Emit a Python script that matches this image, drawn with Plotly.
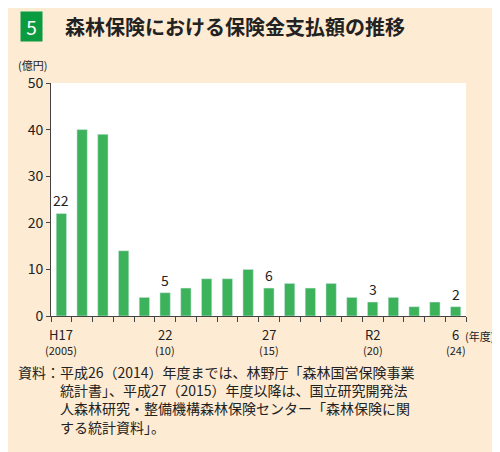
import plotly.graph_objects as go

years = list(range(2005, 2025))
payouts = [22, 40, 39, 14, 4, 5, 6, 8, 8, 10, 6, 7, 6, 7, 4, 3, 4, 2, 3, 2]
label_idx = [0, 5, 10, 15, 19]
era_labels = ["H17", "22", "27", "R2", "6"]
ad_labels = ["(2005)", "(10)", "(15)", "(20)", "(24)"]

FONT = "Noto Sans CJK JP"
BG = "#fdebd3"
x = list(range(len(years)))

fig = go.Figure()
fig.add_trace(go.Bar(x=x, y=payouts, marker_color="#3cb35a", width=0.5))

for i in label_idx:
    fig.add_annotation(x=i, y=payouts[i], text=str(payouts[i]), showarrow=False, yanchor="bottom",
                       yshift=1, font=dict(size=14, color="#222", family=FONT))

for i, e, a in zip(label_idx, era_labels, ad_labels):
    fig.add_annotation(x=i, y=0, yref="y", text=e, showarrow=False, yshift=-18,
                       font=dict(size=13, color="#222", family=FONT))
    fig.add_annotation(x=i, y=0, yref="y", text=a, showarrow=False, yshift=-34,
                       font=dict(size=11, color="#222", family=FONT))
fig.add_annotation(x=19.35, y=0, xanchor="left", text="(年度)", showarrow=False, yshift=-20,
                   font=dict(size=11, color="#222", family=FONT))
fig.add_annotation(xref="paper", yref="paper", x=-0.085, y=1.035, xanchor="left", yanchor="bottom",
                   text="(億円)", showarrow=False, font=dict(size=11, color="#222", family=FONT))

# title with numbered green box
fig.add_annotation(xref="paper", yref="paper", x=-0.075, y=1.175, xanchor="left", yanchor="bottom",
                   text=" 5 ", showarrow=False, bgcolor="#0a9a40",
                   font=dict(size=19, color="white", family=FONT))
fig.add_annotation(xref="paper", yref="paper", x=0.03, y=1.17, xanchor="left", yanchor="bottom",
                   text="<b>森林保険における保険金支払額の推移</b>", showarrow=False,
                   font=dict(size=20, color="#222", family=FONT))

fig.add_annotation(xref="paper", yref="paper", x=-0.085, y=-0.19, xanchor="left", yanchor="top",
                   align="left", showarrow=False, font=dict(size=14, color="#222", family=FONT),
                   text="資料：平成26（2014）年度までは、林野庁「森林国営保険事業<br>"
                        "　　　統計書」、平成27（2015）年度以降は、国立研究開発法<br>"
                        "　　　人森林研究・整備機構森林保険センター「森林保険に関<br>"
                        "　　　する統計資料」。")

fig.update_xaxes(range=[-0.5, 19.5], tickvals=[i + 0.5 for i in range(-1, 20)], ticktext=[""] * 21,
                 ticks="outside", ticklen=5, tickcolor="#444", showline=True, linecolor="#444",
                 showgrid=False, zeroline=False, automargin=False)
fig.update_yaxes(range=[0, 50], tickvals=[0, 10, 20, 30, 40, 50], ticks="outside", ticklen=4,
                 tickcolor="#444", showline=True, linecolor="#444", showgrid=False, zeroline=False,
                 automargin=False, tickfont=dict(size=14, color="#222", family=FONT))

fig.update_layout(width=500, height=452, paper_bgcolor=BG, plot_bgcolor="white",
                  margin=dict(l=43, r=42, t=75, b=144), showlegend=False)
fig.write_html("out.html")
